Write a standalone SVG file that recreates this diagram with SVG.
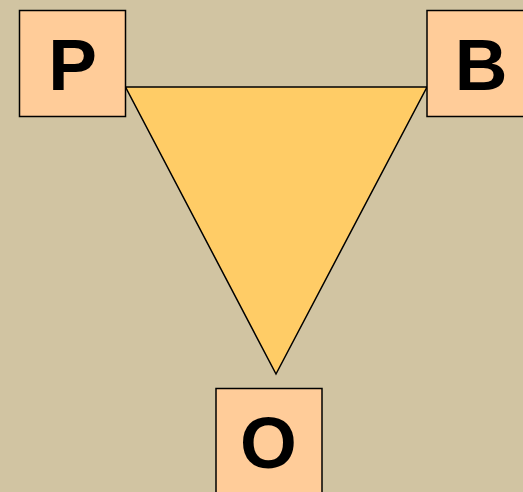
<svg xmlns="http://www.w3.org/2000/svg" width="523" height="492" viewBox="0 0 523 492">
<style>
.box{fill:#FFCC99;stroke:#000;stroke-width:1.5}
.lbl{font-family:"Liberation Sans",Arial,sans-serif;font-weight:bold;font-size:73px;text-anchor:middle;fill:#000}
.tri{fill:#FFCC66;stroke:#000;stroke-width:1.5}
</style>
<rect width="523" height="492" fill="#D1C4A2"/>
<g id="connectors">
<polygon class="tri" points="125.5,87 427,87 276,374"/>
</g>
<g id="node-P">
<rect class="box" x="19.5" y="10.5" width="106" height="106"/>
<text class="lbl" x="72.5" y="90">P</text>
</g>
<g id="node-B">
<rect class="box" x="427" y="10.5" width="106" height="106"/>
<text class="lbl" x="481" y="90">B</text>
</g>
<g id="node-O">
<rect class="box" x="216" y="388.5" width="106" height="106"/>
<text class="lbl" x="268.5" y="468">O</text>
</g>
</svg>
